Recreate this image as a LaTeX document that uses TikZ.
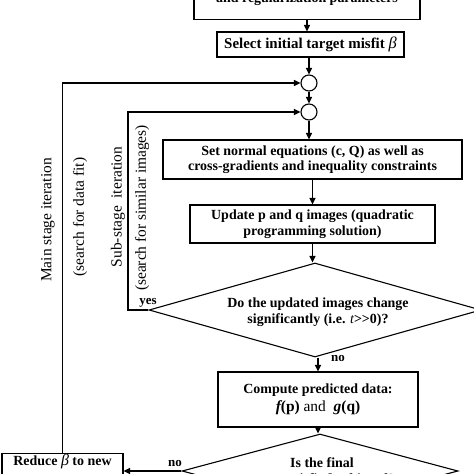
\documentclass[tikz,border=0pt]{standalone}
\usepackage{fontspec}
\setmainfont{Liberation Serif}
\usetikzlibrary{arrows.meta,shapes.geometric}
\begin{document}
\begin{tikzpicture}[x=1bp,y=-1bp,
  box/.style={draw,line width=1.1bp,align=center,inner sep=0pt,
    font=\bfseries\fontsize{14}{15.5}\selectfont},
  txt/.style={align=center,inner sep=0pt,font=\bfseries\fontsize{14}{15.5}\selectfont},
  side/.style={rotate=90,inner sep=0pt,font=\fontsize{15.5}{17}\selectfont},
  arr/.style={line width=1.1bp,-{Triangle[length=6.5bp,width=6bp]}},
  ln/.style={line width=1.1bp},
  junction/.style={circle,draw,line width=1.1bp,minimum size=16bp,inner sep=0pt},
  dec/.style={diamond,draw,line width=1.1bp,inner sep=0pt}
]
\useasboundingbox (0,0) rectangle (474,474);
\clip (0,0) rectangle (474,474);

% boxes
\node[box,minimum width=226bp,text height=30bp,text depth=17bp,anchor=south] (top) at (307,20) {and regularization parameters};
\node[box,minimum width=187bp,minimum height=25bp,font=\bfseries\fontsize{15}{16}\selectfont] (sel) at (310.5,44.5) {Select initial target misfit {\mdseries\itshape\fontsize{16.5}{16.5}\selectfont β}};
\node[junction] (c1) at (309,83) {};
\node[junction] (c2) at (309,112) {};
\node[box,minimum width=299bp,minimum height=39bp] (set) at (312.5,159.5) {Set normal equations (c, Q) as well as\\cross-gradients and inequality constraints};
\node[box,minimum width=245bp,minimum height=38bp] (upd) at (312.5,224) {Update p and q images (quadratic\\programming solution)};
\node[dec,minimum width=332bp,minimum height=94bp] (d1) at (315,310) {};
\node[txt] (d1t) at (318,312) {Do the updated images change\\significantly (i.e. {\mdseries\itshape t}>{}>0)?};
\node[box,minimum width=200bp,minimum height=55bp] (comp) at (318,399.5) {Compute predicted data:\\[2bp]{\fontsize{15.5}{17}\selectfont{\itshape f}(p) {\mdseries and} ~{\itshape g}(q)}};
\node[dec,minimum width=276bp,minimum height=74bp] (d2) at (320,471) {};
\node[txt] (d2t) at (322,472) {Is the final\\target misfit {\mdseries\itshape β} achieved?};
\node[box,minimum width=121bp,text height=12bp,text depth=30bp,anchor=north] (red) at (62.5,453) {Reduce {\mdseries\itshape\fontsize{16}{16}\selectfont β} to new};

% side labels
\node[side] (lmain) at (48,220) {Main stage iteration};
\node[side] (ldata) at (80,217) {(search for data fit)};
\node[side] (lsub) at (118,207) {Sub-stage~ iteration};
\node[side] (lsim) at (142,208) {(search for similar images)};

% small labels
\node[txt,font=\bfseries\fontsize{13}{13}\selectfont] (yes) at (148,303) {yes};
\node[txt,font=\bfseries\fontsize{13}{13}\selectfont] (no1) at (338,359) {no};
\node[txt,font=\bfseries\fontsize{13}{13}\selectfont] (no2) at (175,464) {no};

% connectors
\draw[arr] (top.south) -- (top.south |- sel.north);
\draw[arr] (sel.south -| c1.north) -- (c1.north);
\draw[arr] (c1.south) -- (c2.north);
\draw[arr] (c2.south) -- (c2.south |- set.north);
\draw[arr] (set.south) -- (upd.north);
\draw[arr] (upd.south) -- (upd.south |- d1.north);
\draw[arr] (d1.south -| comp.north) -- (comp.north);
\draw[arr] (comp.south) -- (comp.south |- d2.north);
\draw[arr] (d2.west) -- (d2.west -| red.east);
\coordinate (subx) at (128,0);
\draw[arr] (red.north) -- (red.north |- c1.west) -- (c1.west);
\draw[arr] (d1.west) -- (d1.west -| subx) -- (subx |- c2.west) -- (c2.west);
\end{tikzpicture}
\end{document}
